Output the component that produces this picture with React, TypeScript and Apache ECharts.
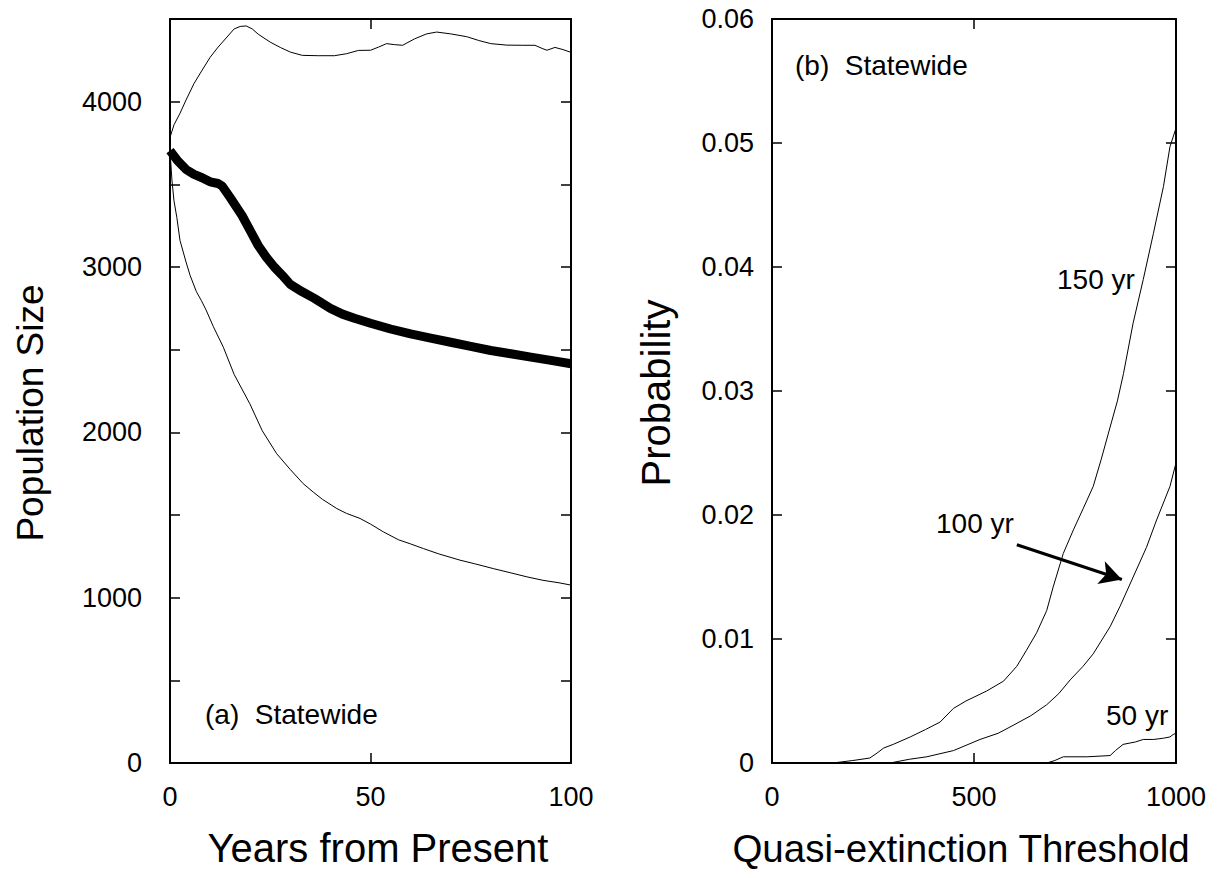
import React, { useEffect, useRef } from "react";
import * as echarts from "echarts";

// ---- Panel (a): population trajectories ----
const meanYears = [0, 2, 4, 6, 8, 10, 12, 13, 15, 18, 20, 22, 24, 26, 28, 30, 33, 36, 40, 43, 46, 50, 55, 60, 65, 70, 75, 80, 85, 90, 95, 100];
const meanVals = [3704, 3640, 3590, 3560, 3540, 3515, 3505, 3490, 3420, 3310, 3220, 3130, 3060, 3000, 2950, 2895, 2850, 2810, 2750, 2715, 2690, 2660, 2625, 2595, 2570, 2545, 2520, 2495, 2475, 2455, 2435, 2415];

const upperYears = [0, 1, 2.5, 4, 6, 8, 10, 12, 14, 16, 17.5, 19, 20.5, 22, 25, 27.5, 30, 33, 37, 41, 44, 47, 50, 52, 54, 56, 58, 61, 64, 66.5, 70, 74, 77, 80, 84, 88, 91, 93, 94, 96, 98, 100];
const upperVals = [3784, 3860, 3930, 4010, 4110, 4190, 4268, 4330, 4385, 4440, 4455, 4458, 4440, 4408, 4360, 4328, 4300, 4280, 4278, 4278, 4290, 4310, 4311, 4330, 4351, 4345, 4341, 4380, 4410, 4421, 4410, 4393, 4370, 4351, 4342, 4341, 4341, 4320, 4311, 4328, 4315, 4298];

const lowerYears = [0, 0.5, 1, 1.7, 2.5, 4, 5, 6.6, 7.8, 9, 10.8, 13.3, 16, 19.9, 23, 26.6, 30, 33.2, 35.7, 38, 41.6, 44, 47.4, 50, 53.2, 57, 60, 63.2, 67, 72.3, 76, 80.6, 85, 89, 93, 97, 100];
const lowerVals = [3704, 3520, 3400, 3300, 3160, 3030, 2950, 2850, 2798, 2740, 2640, 2515, 2350, 2173, 2010, 1871, 1775, 1690, 1639, 1595, 1539, 1510, 1479, 1445, 1398, 1350, 1325, 1297, 1265, 1227, 1205, 1176, 1150, 1126, 1105, 1090, 1076];

// ---- Panel (b): quasi-extinction probability ----
const t150 = [0, 150, 200, 242, 260, 276, 300, 342, 380, 416, 449, 480, 531, 573, 606, 630, 655, 680, 696, 721, 746, 770, 795, 815, 837, 855, 870, 894, 919, 944, 969, 985, 1000];
const p150 = [0, 0, 0.0002, 0.0004, 0.0008, 0.0012, 0.0015, 0.0021, 0.0027, 0.0033, 0.0044, 0.005, 0.0058, 0.0066, 0.0078, 0.0091, 0.0105, 0.0123, 0.0142, 0.0169, 0.0188, 0.0205, 0.0223, 0.0245, 0.0271, 0.0292, 0.0314, 0.0355, 0.039, 0.0427, 0.0465, 0.0497, 0.0512];

const t100 = [0, 292, 340, 383, 449, 515, 560, 589, 640, 680, 710, 738, 770, 795, 837, 861, 894, 927, 952, 985, 1000];
const p100 = [0, 0, 0.0003, 0.0005, 0.001, 0.0019, 0.0024, 0.0029, 0.0038, 0.0047, 0.0056, 0.0067, 0.0078, 0.0088, 0.011, 0.0126, 0.015, 0.0174, 0.0196, 0.0223, 0.0242];

const t50 = [0, 680, 700, 721, 780, 837, 850, 869, 900, 919, 945, 969, 985, 993, 1000];
const p50 = [0, 0, 0.0002, 0.0005, 0.0005, 0.0006, 0.001, 0.0015, 0.0017, 0.0019, 0.0019, 0.002, 0.0021, 0.0023, 0.0024];

// arrow pointing at the 100 yr curve (data coordinates)
const arrowFrom = [606, 0.0176];
const arrowTo = [866, 0.0148];

const FONT = '"Liberation Sans", Arial, Helvetica, sans-serif';

const zip = (xs: number[], ys: number[]) => xs.map((x, i) => [x, ys[i]]);

export default function App() {
  const ref = useRef<HTMLDivElement>(null);

  useEffect(() => {
    if (!ref.current) return;
    const chart = echarts.init(ref.current, null, { renderer: "svg" });

    const axisLine = { show: true, onZero: false, lineStyle: { color: "#000", width: 2 } };
    const tick = { show: true, inside: true, length: 10, lineStyle: { color: "#000", width: 1.5 } };
    const label = (margin: number, extra: any = {}) => ({
      show: true,
      color: "#000",
      fontSize: 27,
      fontFamily: FONT,
      margin,
      formatter: (v: number) => String(v),
      ...extra,
    });
    const noLabel = { show: false };

    const thin = { color: "#000", width: 1 };

    chart.setOption({
      animation: false,
      backgroundColor: "#fff",
      grid: [
        { left: 170, top: 19, width: 401, height: 744 },
        { left: 772, top: 19, width: 404, height: 744 },
      ],
      xAxis: [
        { gridIndex: 0, type: "value", min: 0, max: 100, interval: 50, position: "bottom", axisLine, axisTick: tick, axisLabel: label(20), splitLine: { show: false } },
        { gridIndex: 0, type: "value", min: 0, max: 100, interval: 50, position: "top", axisLine, axisTick: tick, axisLabel: noLabel, splitLine: { show: false } },
        { gridIndex: 1, type: "value", min: 0, max: 1000, interval: 500, position: "bottom", axisLine, axisTick: tick, axisLabel: label(20), splitLine: { show: false } },
        { gridIndex: 1, type: "value", min: 0, max: 1000, interval: 500, position: "top", axisLine, axisTick: tick, axisLabel: noLabel, splitLine: { show: false } },
      ],
      yAxis: [
        {
          gridIndex: 0, type: "value", min: 0, max: 4500, interval: 500, position: "left", axisLine, axisTick: tick,
          axisLabel: label(28, { formatter: (v: number) => (v % 1000 === 0 ? String(v) : "") }),
          splitLine: { show: false },
        },
        { gridIndex: 0, type: "value", min: 0, max: 4500, interval: 500, position: "right", axisLine, axisTick: tick, axisLabel: noLabel, splitLine: { show: false } },
        {
          gridIndex: 1, type: "value", min: 0, max: 0.06, interval: 0.01, position: "left", axisLine, axisTick: tick,
          axisLabel: label(18, { formatter: (v: number) => (v === 0 ? "0" : v.toFixed(2)) }),
          splitLine: { show: false },
        },
        { gridIndex: 1, type: "value", min: 0, max: 0.06, interval: 0.01, position: "right", axisLine, axisTick: tick, axisLabel: noLabel, splitLine: { show: false } },
      ],
      series: [
        { type: "line", xAxisIndex: 0, yAxisIndex: 0, data: zip(upperYears, upperVals), showSymbol: false, lineStyle: thin },
        { type: "line", xAxisIndex: 0, yAxisIndex: 0, data: zip(lowerYears, lowerVals), showSymbol: false, lineStyle: thin },
        { type: "line", xAxisIndex: 0, yAxisIndex: 0, data: zip(meanYears, meanVals), showSymbol: false, lineStyle: { color: "#000", width: 9 } },
        { type: "line", xAxisIndex: 2, yAxisIndex: 2, data: zip(t150, p150), showSymbol: false, lineStyle: thin },
        {
          type: "line", xAxisIndex: 2, yAxisIndex: 2, data: zip(t100, p100), showSymbol: false, lineStyle: thin,
          markLine: {
            silent: true,
            symbol: ["none", "arrow"],
            symbolSize: [18, 22],
            label: { show: false },
            lineStyle: { color: "#000", width: 3, type: "solid" },
            data: [[{ coord: arrowFrom }, { coord: arrowTo }]],
          },
        },
        { type: "line", xAxisIndex: 2, yAxisIndex: 2, data: zip(t50, p50), showSymbol: false, lineStyle: thin },
      ],
      graphic: [
        { type: "text", left: 205, top: 700, style: { text: "(a)  Statewide", fontSize: 28, fontFamily: FONT, fill: "#000" } },
        { type: "text", left: 795, top: 51, style: { text: "(b)  Statewide", fontSize: 28, fontFamily: FONT, fill: "#000" } },
        { type: "text", left: 1057, top: 265, style: { text: "150 yr", fontSize: 28, fontFamily: FONT, fill: "#000" } },
        { type: "text", left: 936, top: 509, style: { text: "100 yr", fontSize: 28, fontFamily: FONT, fill: "#000" } },
        { type: "text", left: 1106, top: 701, style: { text: "50 yr", fontSize: 28, fontFamily: FONT, fill: "#000" } },
        { type: "text", x: 378, y: 848, style: { text: "Years from Present", fontSize: 40, fontFamily: FONT, fill: "#000", align: "center", verticalAlign: "middle" } },
        { type: "text", x: 961, y: 848, style: { text: "Quasi-extinction Threshold", fontSize: 38.5, fontFamily: FONT, fill: "#000", align: "center", verticalAlign: "middle" } },
        { type: "text", x: 30, y: 413, rotation: Math.PI / 2, style: { text: "Population Size", fontSize: 37, fontFamily: FONT, fill: "#000", align: "center", verticalAlign: "middle" } },
        { type: "text", x: 656, y: 393, rotation: Math.PI / 2, style: { text: "Probability", fontSize: 40, fontFamily: FONT, fill: "#000", align: "center", verticalAlign: "middle" } },
      ],
    });

    return () => chart.dispose();
  }, []);

  return <div ref={ref} style={{ position: "fixed", left: 0, top: 0, width: 1225, height: 878 }} />;
}
